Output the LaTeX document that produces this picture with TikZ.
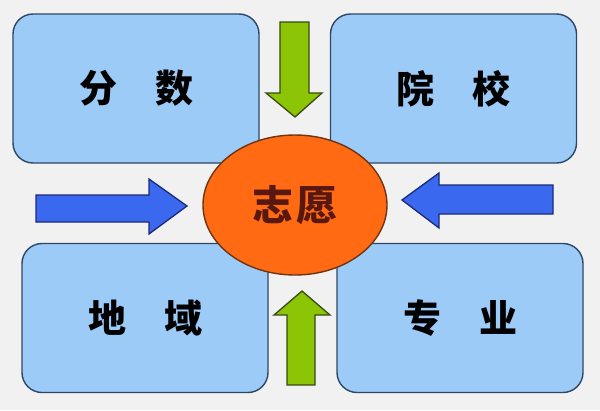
\documentclass[tikz,border=0pt]{standalone}
\usepackage{fontspec}
\newfontfamily\cjk{Noto Sans CJK SC}
\usetikzlibrary{shapes.geometric}
\definecolor{paper}{HTML}{F1F1F1}
\definecolor{boxblue}{HTML}{9DCBF8}
\definecolor{boxedge}{HTML}{2E4766}
\definecolor{wishorange}{HTML}{FF6A12}
\definecolor{wishedge}{HTML}{6E3414}
\definecolor{wishtext}{HTML}{581810}
\definecolor{leafgreen}{HTML}{8CC406}
\definecolor{leafedge}{HTML}{3A4A12}
\definecolor{flowblue}{HTML}{3A68EE}
\definecolor{flowedge}{HTML}{1A2A7A}

\begin{document}
\begin{tikzpicture}[
  x=1pt,y=-1pt,
  font=\cjk\bfseries\fontsize{38pt}{40pt}\selectfont,
  topic/.style={draw=boxedge,fill=boxblue,line width=1.4pt,rounded corners=20pt,
    minimum width=246pt,minimum height=149pt,inner sep=0pt},
  wish/.style={ellipse,draw=wishedge,fill=wishorange,line width=1.4pt,
    minimum width=184pt,minimum height=140pt,inner sep=0pt,text=wishtext,
    font=\cjk\bfseries\fontsize{41pt}{43pt}\selectfont},
  greenflow/.style={draw=leafedge,fill=leafgreen,line width=1.3pt,line join=miter},
  blueflow/.style={draw=flowedge,fill=flowblue,line width=1.3pt,line join=miter}
]
\useasboundingbox[fill=paper] (0,0) rectangle (600,410);

% Four factor boxes round the centre.
\node[topic] (score)   at (136,88.5)   {分\quad 数};
\node[topic] (college) at (453.5,88.5) {院\quad 校};
\node[topic] (region)  at (145,318)    {地\quad 域};
\node[topic] (major)   at (460,318)    {专\quad 业};

% Centre ellipse.
\node[wish] (choice) at (295,205) {志\hspace{3pt}愿};

% Block arrows pointing in.
\draw[greenflow] (280,22) -- (309,22) -- (309,93) -- (322,93) -- (295,117)
  -- (266,93) -- (280,93) -- cycle;
\draw[greenflow] (287,385) -- (315,385) -- (315,315) -- (330,315) -- (302,291)
  -- (274,315) -- (287,315) -- cycle;
\draw[blueflow] (36,195) -- (149,195) -- (149,179) -- (187,206) -- (149,234)
  -- (149,222) -- (36,222) -- cycle;
\draw[blueflow] (553,185) -- (439,185) -- (439,173) -- (402,200) -- (439,228)
  -- (439,214) -- (553,214) -- cycle;
\end{tikzpicture}
\end{document}
